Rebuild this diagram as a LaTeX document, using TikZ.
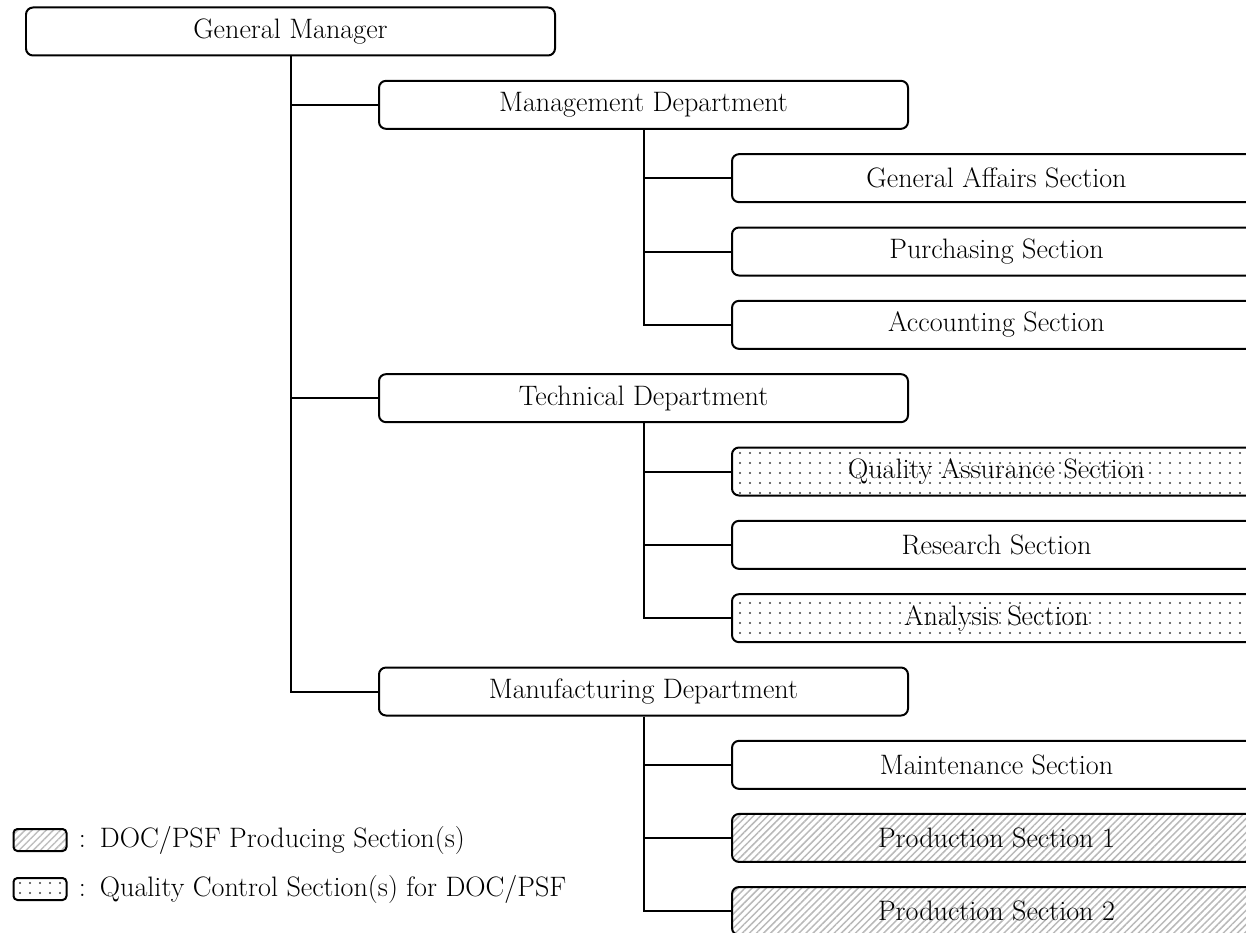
\documentclass[tikz,border=0pt]{standalone}
\usepackage{tikz}
\usetikzlibrary{positioning,patterns.meta}
\tikzstyle{unit} = [rectangle, rounded corners=0.14cm, minimum width=10.58cm, minimum height=0.96cm, inner sep=0pt, text centered, draw=black, line width=0.04cm, font=\fontsize{16}{19}\selectfont]
\tikzstyle{doc} = [unit, pattern={Lines[angle=45,distance=0.1cm,line width=0.03cm]}, pattern color=gray!55]
\tikzstyle{qc} = [unit, pattern={Dots[distance=0.2cm,radius=0.6pt]}, pattern color=black!75]
\tikzstyle{key} = [rectangle, rounded corners=0.08cm, minimum width=1.06cm, minimum height=0.44cm, inner sep=0pt, draw=black, line width=0.04cm]
\tikzstyle{keytext} = [inner sep=0pt, font=\fontsize{16}{19}\selectfont]
\tikzstyle{link} = [line width=0.04cm]

\begin{document}
\begin{tikzpicture}[node distance=0.4667cm]
	\useasboundingbox (0,0) rectangle (24.92,-18.66);
	\node[unit] (gm) at (5.81,-0.63) {General Manager};
	
	\node[unit, below=of gm, xshift=7.06cm] (mgmt) {Management Department};
	\node[unit, below=of mgmt, xshift=7.06cm] (affairs) {General Affairs Section};
	\node[unit, below=of affairs] (purch) {Purchasing Section};
	\node[unit, below=of purch] (acct) {Accounting Section};
	
	\node[unit, below=of acct, xshift=-7.06cm] (tech) {Technical Department};
	\node[qc, below=of tech, xshift=7.06cm] (qa) {Quality Assurance Section};
	\node[unit, below=of qa] (research) {Research Section};
	\node[qc, below=of research] (analysis) {Analysis Section};
	
	\node[unit, below=of analysis, xshift=-7.06cm] (manu) {Manufacturing Department};
	\node[unit, below=of manu, xshift=7.06cm] (maint) {Maintenance Section};
	\node[doc, below=of maint] (prod1) {Production Section 1};
	\node[doc, below=of prod1] (prod2) {Production Section 2};
	
	%legend
	\node[key, pattern={Lines[angle=45,distance=0.1cm,line width=0.03cm]}, pattern color=gray!50] (keydoc) at (0.8,-16.8) {};
	\node[keytext, right=0.22cm of keydoc] (keydoctext) {:\enspace DOC/PSF Producing Section(s)};
	\node[key, pattern={Dots[distance=0.2cm,radius=0.6pt]}, pattern color=black!75] (keyqc) at (0.8,-17.78) {};
	\node[keytext, right=0.22cm of keyqc] (keyqctext) {:\enspace Quality Control Section(s) for DOC/PSF};
	
	%lines
	\draw[link] (gm.south) |- (mgmt.west);
	\draw[link] (gm.south) |- (tech.west);
	\draw[link] (gm.south) |- (manu.west);
	\draw[link] (mgmt.south) |- (affairs.west);
	\draw[link] (mgmt.south) |- (purch.west);
	\draw[link] (mgmt.south) |- (acct.west);
	\draw[link] (tech.south) |- (qa.west);
	\draw[link] (tech.south) |- (research.west);
	\draw[link] (tech.south) |- (analysis.west);
	\draw[link] (manu.south) |- (maint.west);
	\draw[link] (manu.south) |- (prod1.west);
	\draw[link] (manu.south) |- (prod2.west);
\end{tikzpicture}
\end{document}
